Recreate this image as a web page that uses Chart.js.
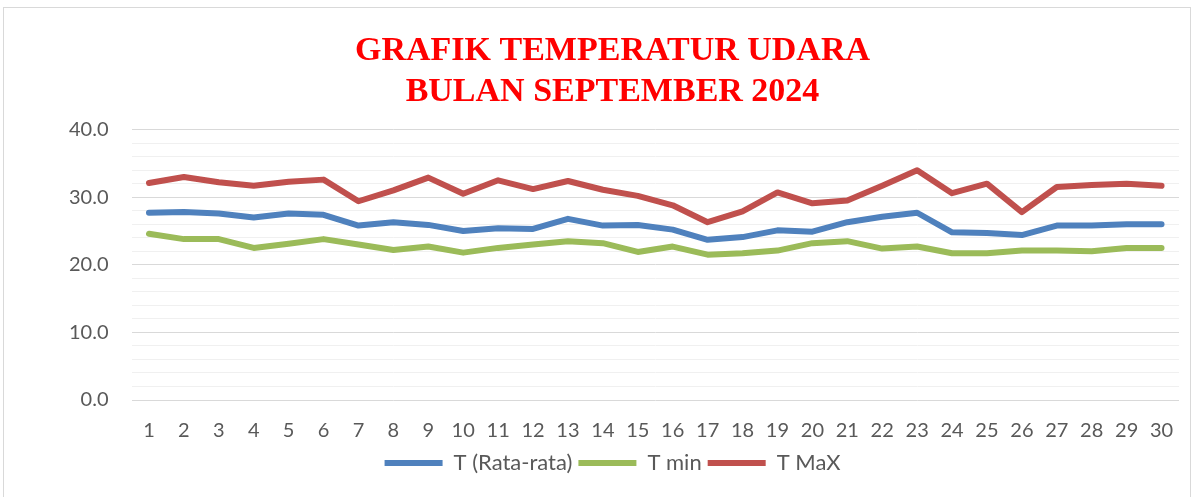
<!DOCTYPE html>
<html>
<head>
<meta charset="utf-8">
<script src="https://cdn.jsdelivr.net/npm/chart.js@4"></script>
<style>
  html, body { margin: 0; padding: 0; background: #fff; }
  body { width: 1194px; height: 497px; position: relative; overflow: hidden; }
  #frame { position: absolute; left: 3px; top: 7px; width: 1188px; height: 500px; border: 1px solid #d9d9d9; box-sizing: border-box; }
  #wrap { position: absolute; left: 0; top: 0; width: 1194px; height: 497px; }
</style>
</head>
<body>
<div id="frame"></div>
<div id="wrap"><canvas id="tempChart"></canvas></div>
<script>
// data
const days = ['1','2','3','4','5','6','7','8','9','10','11','12','13','14','15',
  '16','17','18','19','20','21','22','23','24','25','26','27','28','29','30'];
const tAvg = [27.7, 27.8, 27.6, 27.0, 27.6, 27.4, 25.8, 26.3, 25.9, 25.0,
  25.4, 25.3, 26.8, 25.8, 25.9, 25.2, 23.7, 24.1, 25.1, 24.9,
  26.3, 27.1, 27.7, 24.8, 24.7, 24.4, 25.8, 25.8, 26.0, 26.0];
const tMin = [24.6, 23.8, 23.8, 22.5, 23.1, 23.8, 23.0, 22.2, 22.7, 21.8,
  22.5, 23.0, 23.5, 23.2, 21.9, 22.7, 21.5, 21.7, 22.1, 23.2,
  23.5, 22.4, 22.7, 21.7, 21.7, 22.1, 22.1, 22.0, 22.5, 22.5];
const tMax = [32.1, 33.0, 32.2, 31.7, 32.3, 32.6, 29.4, 31.0, 32.9, 30.5,
  32.5, 31.2, 32.4, 31.1, 30.2, 28.8, 26.3, 27.9, 30.7, 29.1,
  29.5, 31.7, 34.0, 30.6, 32.0, 27.8, 31.5, 31.8, 32.0, 31.7];
const titleLines = ['GRAFIK TEMPERATUR UDARA', 'BULAN SEPTEMBER 2024'];

function createTempChart() {
  const ctx = document.getElementById('tempChart').getContext('2d');
  const lineStyle = {
    borderWidth: 6,
    pointRadius: 0,
    tension: 0,
    fill: false,
    borderCapStyle: 'round',
    borderJoinStyle: 'round'
  };

  new Chart(ctx, {
    type: 'line',
    data: {
      labels: days,
      datasets: [
        { label: 'T (Rata-rata)', data: tAvg, borderColor: '#4F81BD', backgroundColor: '#4F81BD', ...lineStyle },
        { label: 'T min', data: tMin, borderColor: '#9BBB59', backgroundColor: '#9BBB59', ...lineStyle },
        { label: 'T MaX', data: tMax, borderColor: '#C0504D', backgroundColor: '#C0504D', ...lineStyle }
      ]
    },
    options: {
      responsive: true,
      maintainAspectRatio: false,
      animation: false,
      layout: { padding: { left: 46, right: 15, top: 0, bottom: 13 } },
      scales: {
        x: {
          offset: true,
          grid: { display: false, drawTicks: false },
          border: { display: false },
          ticks: {
            color: '#595959',
            font: { family: 'Lato', size: 20 },
            padding: 19,
            autoSkip: false,
            maxRotation: 0
          },
          // the axis reserves more room than the labels need
          afterFit: (scale) => { scale.height -= 16; }
        },
        y: {
          min: 0,
          max: 40,
          border: { display: false },
          grid: {
            drawTicks: false,
            color: (c) => (c.tick && c.tick.value % 10 === 0) ? '#d9d9d9' : '#f0f0f0',
            lineWidth: 1
          },
          ticks: {
            stepSize: 2,
            autoSkip: false,
            color: '#595959',
            font: { family: 'Lato', size: 20 },
            padding: 23,
            callback: (v) => v % 10 === 0 ? v.toFixed(1) : ''
          }
        }
      },
      plugins: {
        title: {
          display: true,
          text: titleLines,
          color: '#FF0000',
          font: { family: 'Liberation Serif', size: 34, weight: 'bold', lineHeight: 1.2 },
          padding: { top: 31, bottom: 17 }
        },
        legend: {
          position: 'bottom',
          labels: {
            usePointStyle: true,
            pointStyle: 'line',
            pointStyleWidth: 58,
            color: '#595959',
            font: { family: 'Lato', size: 22 },
            padding: 6
          }
        },
        tooltip: { enabled: false }
      }
    }
  });
}

document.addEventListener('DOMContentLoaded', createTempChart);
</script>
</body>
</html>
